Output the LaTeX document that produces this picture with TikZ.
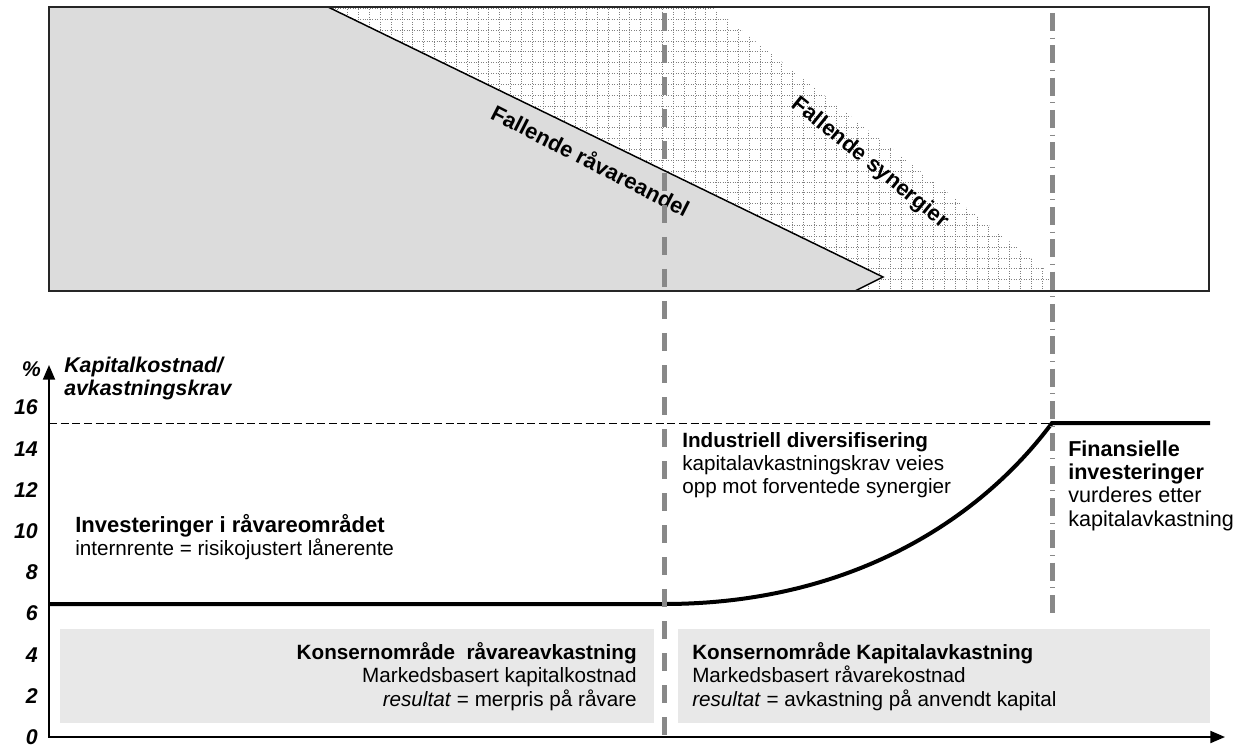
\documentclass[tikz,border=0pt]{standalone}
\usepackage{fontspec}
\setmainfont{Liberation Sans}
\usetikzlibrary{arrows.meta}
\definecolor{rawgrey}{RGB}{220,220,220}
\definecolor{zonegrey}{RGB}{232,232,232}
\definecolor{sepgrey}{RGB}{136,136,136}
\begin{document}
\begin{tikzpicture}[x=0.75pt,y=-0.75pt,
  body/.style={inner sep=0pt, font=\fontsize{15.5}{17.6}\selectfont},
  slanted/.style={inner sep=0pt, font=\fontsize{16.5}{18}\selectfont\bfseries},
  ticklab/.style={inner sep=0pt, anchor=base east, font=\fontsize{16}{18}\selectfont\bfseries\itshape},
  hatchline/.style={draw=black!50, line width=0.5pt, dash pattern=on 0.75pt off 1.1pt},
  sepline/.style={draw=sepgrey, line width=3.75pt, dash pattern=on 13.5pt off 10.5pt},
  sepdotline/.style={draw=sepgrey, line width=3.75pt, dash pattern=on 13.5pt off 5pt on 0.75pt off 5pt},
  axis/.style={line width=1.5pt, {Triangle[length=11pt,width=9pt]}-{Triangle[length=11pt,width=9pt]}},
  rate/.style={line width=3pt},
  zone/.style={fill=zonegrey}
]
\useasboundingbox (0,0) rectangle (1241,748);

% ---------- upper panel: falling shares ----------
\fill[white] (49,7) rectangle (1209,291);
\begin{scope}
  \clip (328,7) -- (712,7) -- (1052,275) -- (1052,291) -- (855,291) -- (883,277) -- cycle;
  \foreach \i in {0,...,67} \draw[hatchline] ({326+10.85*\i},7) -- ++(0,284);
  \foreach \j in {0,...,26} \draw[hatchline] (328,{8.3+10.85*\j}) -- ++(724,0);
\end{scope}
\fill[rawgrey] (49,7) -- (328,7) -- (883,277) -- (855,291) -- (49,291) -- cycle;
\draw[line width=1.1pt] (328,7) -- (883,277) -- (855,291);
\draw[line width=1.5pt, draw=black!85] (49,7) rectangle (1209,291);

\node[slanted, rotate=-27] (raw) at (591,160) {Fallende råvareandel};
\node[slanted, rotate=-39] (syn) at (870,163) {Fallende synergier};

% ---------- lower panel: required return ----------
\fill[zone] (60,629) rectangle (654,723);
\fill[zone] (678,629) rectangle (1210,723);

\draw[line width=0.75pt, dash pattern=on 6pt off 2.75pt] (49,423) -- (1052,423);

\draw[axis] (49,365) -- (49,737) -- (1225,737);

\node[ticklab] (pct) at (41,376) {\%};
\foreach \v [count=\k from 0] in {0,2,4,6,8,10,12,14,16}
  \node[ticklab] (t\v) at (38,{744.5-41.2*\k}) {\v};

\node[inner sep=0pt, anchor=base west, font=\fontsize{16}{17.6}\selectfont\bfseries\itshape] (ylab) at (64,372)
  {\begin{tabular}[t]{@{}l@{}}Kapitalkostnad/\\avkastningskrav\end{tabular}};

\draw[rate] (49,604) -- (664,604) .. controls (850,604) and (980,520) .. (1052,423) -- (1210,423);

% separators between the three investment regimes
\draw[sepline] (664,13) -- (664,735);
\draw[sepdotline] (1052,13) -- (1052,616);

\node[body, anchor=base west] (inv) at (75,532)
  {\begin{tabular}[t]{@{}l@{}}\textbf{\fontsize{16.5}{17.6}\selectfont Investeringer i råvareområdet}\\internrente = risikojustert lånerente\end{tabular}};
\node[body, anchor=base west] (ind) at (682,447)
  {\begin{tabular}[t]{@{}l@{}}\textbf{Industriell diversifisering}\\kapitalavkastningskrav veies\\opp mot forventede synergier\end{tabular}};
\node[body, anchor=base west, font=\fontsize{16.2}{17.6}\selectfont] (fin) at (1068,456)
  {\begin{tabular}[t]{@{}l@{}}\textbf{Finansielle}\\\textbf{investeringer}\\vurderes etter\\kapitalavkastning\end{tabular}};

\node[body, anchor=base east] (kr) at (637,659)
  {\begin{tabular}[t]{@{}r@{}}\textbf{Konsernområde\ \ råvareavkastning}\\Markedsbasert kapitalkostnad\\\textit{resultat} = merpris på råvare\end{tabular}};
\node[body, anchor=base west] (kk) at (692,659)
  {\begin{tabular}[t]{@{}l@{}}\textbf{Konsernområde Kapitalavkastning}\\Markedsbasert råvarekostnad\\\textit{resultat} = avkastning på anvendt kapital\end{tabular}};
\end{tikzpicture}
\end{document}
